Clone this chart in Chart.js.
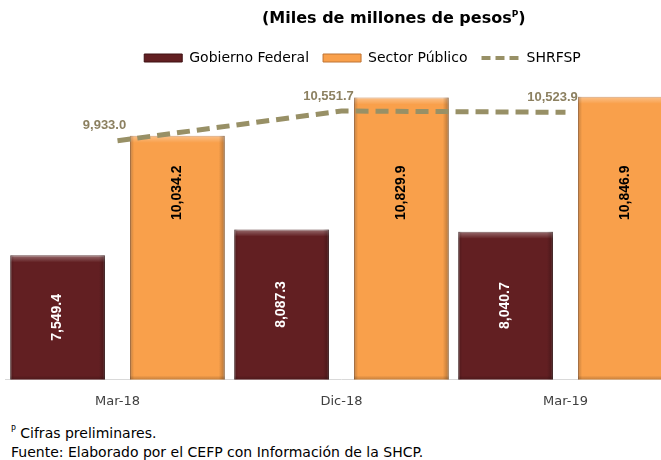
<!DOCTYPE html>
<html><head><meta charset="utf-8">
<script src="https://cdn.jsdelivr.net/npm/chart.js@4/dist/chart.umd.min.js"></script>
<style>
html,body{margin:0;padding:0;background:#fff;width:661px;height:460px;overflow:hidden;}
#wrap{position:relative;width:661px;height:460px;overflow:hidden;background:#fff;}
#c{position:absolute;left:0;top:0;}
#title{position:absolute;top:8px;left:262px;font:bold 16px "DejaVu Sans";color:#000;white-space:nowrap;}
#title sup{font-size:9px;vertical-align:top;position:relative;top:1px;}
.note{position:absolute;left:11px;font:14px "DejaVu Sans";color:#000;white-space:nowrap;}
.note sup{font-size:8px;vertical-align:top;}
</style></head>
<body><div id="wrap">
<canvas id="c" width="700" height="423"></canvas>
<div id="title">(Miles de millones de pesos<sup>P</sup>)</div>
<div class="note" style="top:425px"><sup>P</sup> Cifras preliminares.</div>
<div class="note" style="top:444px">Fuente: Elaborado por el CEFP con Información de la SHCP.</div>
</div>
<script>
const categories = ['Mar-18', 'Dic-18', 'Mar-19'];
const gobiernoFederal = [7549.4, 8087.3, 8040.7];
const sectorPublico = [10034.2, 10829.9, 10846.9];
const shrfsp = [9933.0, 10551.7, 10523.9];
const seriesNames = ['Gobierno Federal', 'Sector Público', 'SHRFSP'];

const MAROON = '#621F22', ORANGE = '#F9A04B', OLIVE = '#989066';
const ORANGE_LABEL_AT = 8850;

function fmt(v){
  const s = v.toFixed(1); const [a,b] = s.split('.');
  return a.replace(/\B(?=(\d{3})+(?!\d))/g, ',') + '.' + b;
}

function barBox(chart, el){
  const p = el.getProps(['x', 'y', 'base', 'width'], true);
  const bottom = chart.chartArea.bottom;
  const base = (p.base != null && !isNaN(p.base)) ? Math.min(p.base, bottom) : bottom;
  return { l: p.x - p.width / 2, r: p.x + p.width / 2, t: p.y, b: base, x: p.x };
}

const bevel = {
  id: 'bevel',
  afterDatasetDraw(chart, args){
    const ds = chart.data.datasets[args.index];
    if (ds.type === 'line') return;
    const ctx = chart.ctx;
    args.meta.data.forEach(el => {
      const {l, r, t, b} = barBox(chart, el);
      ctx.save();
      let g = ctx.createLinearGradient(0, t, 0, t + 7);
      g.addColorStop(0, 'rgba(255,255,255,0.35)'); g.addColorStop(1, 'rgba(255,255,255,0)');
      ctx.fillStyle = g; ctx.fillRect(l, t, r - l, 7);
      g = ctx.createLinearGradient(r - 6, 0, r, 0);
      g.addColorStop(0, 'rgba(0,0,0,0)'); g.addColorStop(1, 'rgba(0,0,0,0.28)');
      ctx.fillStyle = g; ctx.fillRect(r - 6, t, 6, b - t);
      g = ctx.createLinearGradient(l, 0, l + 4, 0);
      g.addColorStop(0, 'rgba(0,0,0,0.22)'); g.addColorStop(1, 'rgba(0,0,0,0)');
      ctx.fillStyle = g; ctx.fillRect(l, t, 4, b - t);
      g = ctx.createLinearGradient(0, b - 4, 0, b);
      g.addColorStop(0, 'rgba(0,0,0,0)'); g.addColorStop(1, 'rgba(0,0,0,0.2)');
      ctx.fillStyle = g; ctx.fillRect(l, b - 4, r - l, 4);
      ctx.restore();
    });
  }
};

const valueLabels = {
  id: 'valueLabels',
  afterDatasetsDraw(chart){
    const ctx = chart.ctx, ys = chart.scales.y;
    chart.data.datasets.forEach((ds, di) => {
      const meta = chart.getDatasetMeta(di);
      meta.data.forEach((el, i) => {
        const txt = fmt(ds.data[i]);
        ctx.save();
        if (ds.type === 'line') {
          const p = el.getProps(['x', 'y'], true);
          ctx.font = 'bold 13px "Liberation Sans"';
          ctx.fillStyle = '#8C8060';
          ctx.textAlign = 'center'; ctx.textBaseline = 'middle';
          ctx.fillText(txt, p.x - 13, p.y - 15);
        } else {
          const bx = barBox(chart, el);
          const cy = di === 0 ? (bx.t + bx.b) / 2 : ys.getPixelForValue(ORANGE_LABEL_AT);
          ctx.translate(bx.x, cy); ctx.rotate(-Math.PI / 2);
          ctx.font = 'bold 14px "Liberation Sans"';
          ctx.fillStyle = di === 0 ? '#FFFFFF' : '#000000';
          ctx.textAlign = 'center'; ctx.textBaseline = 'middle';
          ctx.fillText(txt, 0, 0);
        }
        ctx.restore();
      });
    });
  }
};

const shiftLegend = {
  id: 'shiftLegend',
  afterLayout(chart){ if (chart.legend){ chart.legend.left += 21; chart.legend.right += 21; } }
};

new Chart(document.getElementById('c'), {
  type: 'bar',
  data: {
    labels: categories,
    datasets: [
      { label: seriesNames[0], data: gobiernoFederal, backgroundColor: MAROON, borderColor: '#3E1012', borderWidth: 1, order: 1 },
      { label: seriesNames[1], data: sectorPublico, backgroundColor: ORANGE, borderColor: '#BF7434', borderWidth: 1, order: 1 },
      { type: 'line', label: seriesNames[2], data: shrfsp, borderColor: OLIVE, backgroundColor: OLIVE,
        borderWidth: 5, borderDash: [13, 7], pointRadius: 0, fill: false, tension: 0, order: 0 }
    ]
  },
  options: {
    responsive: false, animation: false,
    layout: { padding: { left: 5.5, right: 22.5, top: 37, bottom: 0 } },
    datasets: { bar: { categoryPercentage: 1.07, barPercentage: 0.79 } },
    scales: {
      x: { grid: { display: false, drawTicks: false }, border: { display: true, color: '#D9D9D9', width: 1 },
           ticks: { padding: 14, color: '#404040', font: { family: 'DejaVu Sans', size: 13 } } },
      y: { display: false, min: 4970, max: 11300 }
    },
    plugins: {
      tooltip: { enabled: false },
      legend: {
        position: 'top',
        labels: {
          usePointStyle: true, pointStyleWidth: 38, boxHeight: 8, padding: 14,
          color: '#000', font: { family: 'DejaVu Sans', size: 14 },
          sort: (a, b) => a.datasetIndex - b.datasetIndex,
          generateLabels(chart){
            const items = Chart.defaults.plugins.legend.labels.generateLabels(chart);
            items.forEach(it => {
              const ds = chart.data.datasets[it.datasetIndex];
              if (ds.type === 'line') { it.pointStyle = 'line'; it.lineWidth = 4; it.lineDash = [9, 5]; it.strokeStyle = OLIVE; }
              else { it.pointStyle = 'rect'; it.lineWidth = 1; it.lineDash = []; }
            });
            return items;
          }
        }
      }
    }
  },
  plugins: [bevel, valueLabels, shiftLegend]
});
</script>
</body></html>
